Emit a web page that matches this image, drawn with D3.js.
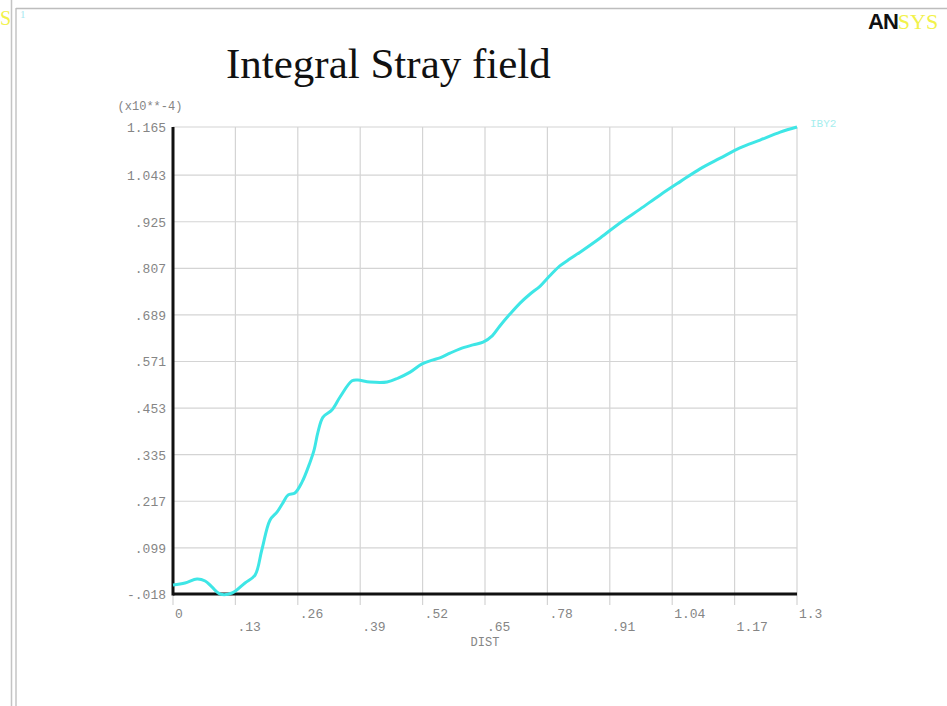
<!DOCTYPE html>
<html><head><meta charset="utf-8">
<script src="https://cdn.jsdelivr.net/npm/d3@7"></script>
<style>body{margin:0;background:#fff;overflow:hidden}</style>
</head><body>
<svg id="c" width="947" height="706"></svg>
<script>
const title = "Integral Stray field";
const seriesName = "IBY2";
const xLabel = "DIST";
const yMultiplier = "(x10**-4)";
const xTicks = [0, 0.13, 0.26, 0.39, 0.52, 0.65, 0.78, 0.91, 1.04, 1.17, 1.3];
const xTickLabels = ["0", ".13", ".26", ".39", ".52", ".65", ".78", ".91", "1.04", "1.17", "1.3"];
const yTicks = [-0.018, 0.099, 0.217, 0.335, 0.453, 0.571, 0.689, 0.807, 0.925, 1.043, 1.165];
const yTickLabels = ["-.018", ".099", ".217", ".335", ".453", ".571", ".689", ".807", ".925", "1.043", "1.165"];
const distValues = [0, 0.025, 0.05, 0.067, 0.081, 0.098, 0.123, 0.150, 0.171, 0.185, 0.202, 0.217, 0.229, 0.240, 0.254, 0.269, 0.285, 0.294, 0.302, 0.3125, 0.331, 0.348, 0.373, 0.385, 0.410, 0.446, 0.469, 0.494, 0.519, 0.542, 0.556, 0.577, 0.598, 0.625, 0.646, 0.665, 0.681, 0.702, 0.723, 0.744, 0.765, 0.785, 0.806, 0.827, 0.848, 0.890, 0.931, 0.973, 1.015, 1.056, 1.098, 1.140, 1.181, 1.223, 1.265, 1.3];
const ibyValues = [0.005, 0.010, 0.020, 0.015, 0.000, -0.018, -0.0155, 0.010, 0.030, 0.0935, 0.169, 0.190, 0.213, 0.233, 0.238, 0.266, 0.314, 0.347, 0.392, 0.430, 0.448, 0.481, 0.522, 0.524, 0.519, 0.519, 0.529, 0.544, 0.565, 0.575, 0.580, 0.592, 0.603, 0.613, 0.620, 0.636, 0.661, 0.691, 0.719, 0.742, 0.762, 0.788, 0.813, 0.831, 0.848, 0.884, 0.922, 0.957, 0.993, 1.026, 1.059, 1.086, 1.112, 1.132, 1.152, 1.165];

const svg = d3.select("#c");
const L = 173, R = 797, T = 127, B = 594;
const x = d3.scaleLinear().domain([0, 1.3]).range([L, R]);
const y = d3.scaleLinear().domain([-0.018, 1.165]).range([B, T]);
const mono = "'Liberation Mono','DejaVu Sans Mono',monospace";
const tickColor = "#858585";

// frame
svg.append("line").attr("x1", 11.5).attr("x2", 11.5).attr("y1", 0).attr("y2", 706).attr("stroke", "#c4c4c4").attr("stroke-width", 1.5);
svg.append("line").attr("x1", 16).attr("x2", 16).attr("y1", 8).attr("y2", 706).attr("stroke", "#c4c4c4").attr("stroke-width", 1.5);
svg.append("line").attr("x1", 16).attr("x2", 947).attr("y1", 8.5).attr("y2", 8.5).attr("stroke", "#bdbdbd").attr("stroke-width", 1.5);
svg.append("text").attr("x", 0).attr("y", 25).attr("font-family", "'Liberation Serif',serif").attr("font-size", 20).attr("fill", "#f2f24a").text("S");
svg.append("text").attr("x", 20).attr("y", 18).attr("font-family", "'Liberation Serif',serif").attr("font-size", 11).attr("fill", "#a8e8f0").text("1");
const logo = svg.append("text").attr("x", 868).attr("y", 29).attr("font-size", 22);
logo.append("tspan").attr("font-family", "'Liberation Sans',sans-serif").attr("font-weight", "bold").attr("fill", "#111").attr("letter-spacing", -1).text("AN");
logo.append("tspan").attr("font-family", "'Liberation Serif',serif").attr("fill", "#f2f24a").text("SYS");

// title
svg.append("text").attr("x", 226).attr("y", 78).attr("font-family", "'Liberation Serif','Times New Roman',serif").attr("font-size", 43).attr("fill", "#111").text(title);

// grid
const g = svg.append("g");
g.selectAll(".vx").data(xTicks).join("line").attr("x1", d => x(d)).attr("x2", d => x(d)).attr("y1", T).attr("y2", B + 11).attr("stroke", "#d4d4d4").attr("stroke-width", 1.2);
g.selectAll(".hy").data(yTicks).join("line").attr("x1", L).attr("x2", R).attr("y1", d => y(d)).attr("y2", d => y(d)).attr("stroke", "#d4d4d4").attr("stroke-width", 1.2);

// axes lines
svg.append("line").attr("x1", L).attr("x2", R).attr("y1", B).attr("y2", B).attr("stroke", "#111").attr("stroke-width", 3);
svg.append("line").attr("x1", L).attr("x2", L).attr("y1", T).attr("y2", B + 1.5).attr("stroke", "#111").attr("stroke-width", 3);

// tick labels
svg.selectAll(".xl").data(xTicks).join("text").attr("x", d => x(d) + 2).attr("y", (d, i) => i % 2 === 0 ? 618 : 631)
  .attr("font-family", mono).attr("font-size", 13).attr("fill", tickColor).text((d, i) => xTickLabels[i]);
svg.selectAll(".yl").data(yTicks).join("text").attr("x", 166).attr("y", d => y(d) + 5).attr("text-anchor", "end")
  .attr("font-family", mono).attr("font-size", 13).attr("fill", tickColor).text((d, i) => yTickLabels[i]);
svg.append("text").attr("x", 150).attr("y", 110).attr("text-anchor", "middle").attr("font-family", mono).attr("font-size", 12).attr("fill", tickColor).text(yMultiplier);
svg.append("text").attr("x", x(0.65)).attr("y", 646).attr("text-anchor", "middle").attr("font-family", mono).attr("font-size", 12).attr("fill", tickColor).text(xLabel);

// curve
const data = distValues.map((d, i) => [d, ibyValues[i]]);
svg.append("path").datum(data).attr("fill", "none").attr("stroke", "#3ee6e6").attr("stroke-width", 3)
  .attr("stroke-linejoin", "round").attr("d", d3.line().x(d => x(d[0])).y(d => y(d[1])).curve(d3.curveCatmullRom));
svg.append("text").attr("x", 810).attr("y", 127).attr("font-family", mono).attr("font-size", 11).attr("fill", "#a6eeee").text(seriesName);
</script>
</body></html>
